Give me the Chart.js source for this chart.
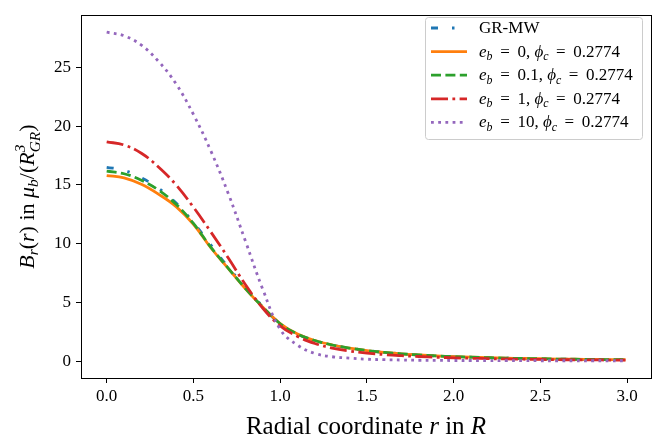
<!DOCTYPE html>
<html>
<head>
<meta charset="utf-8">
<script src="https://cdn.jsdelivr.net/npm/chart.js@4"></script>
<style>
  body { margin: 0; background: #fff; }
  canvas { display: block; }
</style>
</head>
<body>
<canvas id="chart" width="664" height="440"></canvas>
<script>
// radial coordinate r (in R)
const radius = [0, 0.1, 0.2, 0.3, 0.4, 0.5, 0.6, 0.7, 0.8, 0.9, 1.0, 1.1, 1.2, 1.3, 1.4, 1.5,
  1.6, 1.7, 1.8, 1.9, 2.0, 2.1, 2.2, 2.3, 2.4, 2.5, 2.6, 2.7, 2.8, 2.9, 2.99];

const grMW = [16.5, 16.25, 15.6, 14.7, 13.45, 11.8, 9.9, 8.0, 6.3, 4.65, 3.15, 2.3, 1.75, 1.37, 1.1, 0.9,
  0.74, 0.62, 0.52, 0.44, 0.38, 0.33, 0.29, 0.25, 0.22, 0.2, 0.17, 0.155, 0.14, 0.125, 0.115];
const eb0 = [15.8, 15.6, 15.05, 14.2, 13.15, 11.65, 9.65, 7.9, 6.15, 4.58, 3.2, 2.3, 1.75, 1.37, 1.1, 0.9,
  0.74, 0.61, 0.52, 0.44, 0.38, 0.33, 0.29, 0.25, 0.22, 0.2, 0.17, 0.155, 0.14, 0.125, 0.115];
const eb01 = [16.17, 15.95, 15.4, 14.55, 13.35, 11.72, 9.7, 7.92, 6.17, 4.6, 3.18, 2.3, 1.75, 1.37, 1.1, 0.9,
  0.74, 0.62, 0.52, 0.44, 0.38, 0.33, 0.29, 0.25, 0.22, 0.2, 0.17, 0.155, 0.14, 0.125, 0.115];
const eb1 = [18.67, 18.4, 17.7, 16.5, 15.0, 13.1, 11.0, 8.8, 6.5, 4.5, 3.0, 2.1, 1.5, 1.1, 0.85, 0.68,
  0.55, 0.46, 0.39, 0.33, 0.28, 0.24, 0.21, 0.18, 0.16, 0.14, 0.12, 0.11, 0.1, 0.09, 0.08];
const eb10 = [28.0, 27.7, 26.9, 25.5, 23.6, 21.0, 17.9, 14.3, 10.2, 6.1, 2.7, 1.35, 0.65, 0.37, 0.25, 0.16,
  0.12, 0.09, 0.07, 0.06, 0.05, 0.05, 0.04, 0.04, 0.04, 0.03, 0.03, 0.03, 0.03, 0.03, 0.03];

const xTicks = [0, 0.5, 1.0, 1.5, 2.0, 2.5, 3.0];
const yTicks = [0, 5, 10, 15, 20, 25];

const SERIF = '"Liberation Serif", "DejaVu Serif", serif';

// legend entries: rich text parts
const EQ = '\u2009 = \u2009';
const phiPart = [{t: ', '}, {t: 'ϕ', i: true}, {t: 'c', i: true, sub: true}, {t: EQ + '0.2774'}];
const legendItems = [
  {color: '#1f77b4', dash: [7, 14, 2.5, 14], parts: [{t: 'GR-MW'}]},
  {color: '#ff7f0e', dash: [], parts: [{t: 'e', i: true}, {t: 'b', i: true, sub: true}, {t: EQ + '0'}].concat(phiPart)},
  {color: '#2ca02c', dash: [10, 4.4], parts: [{t: 'e', i: true}, {t: 'b', i: true, sub: true}, {t: EQ + '0.1'}].concat(phiPart)},
  {color: '#d62728', dash: [17, 4.4, 2.8, 4.4], parts: [{t: 'e', i: true}, {t: 'b', i: true, sub: true}, {t: EQ + '1'}].concat(phiPart)},
  {color: '#9467bd', dash: [2.8, 4.4], parts: [{t: 'e', i: true}, {t: 'b', i: true, sub: true}, {t: EQ + '10'}].concat(phiPart)}
];
const seriesValues = [grMW, eb0, eb01, eb1, eb10];

function font(size, italic) {
  return (italic ? 'italic ' : '') + size + 'px ' + SERIF;
}

function partWidth(ctx, p, size) {
  if (p.sup !== undefined) {
    ctx.font = font(size * 0.7, p.i);
    return Math.max(ctx.measureText(p.sup).width, ctx.measureText(p.sub).width);
  }
  ctx.font = font(p.sub || p.sup ? size * 0.7 : size, p.i);
  return ctx.measureText(p.t).width;
}

function drawRich(ctx, parts, x, y, size, align) {
  let total = 0;
  parts.forEach(p => { total += partWidth(ctx, p, size); });
  let cx = align === 'center' ? x - total / 2 : x;
  ctx.textBaseline = 'alphabetic';
  ctx.textAlign = 'left';
  ctx.fillStyle = '#000';
  parts.forEach(p => {
    const w = partWidth(ctx, p, size);
    if (p.sup !== undefined) {
      ctx.font = font(size * 0.7, p.i);
      ctx.fillText(p.sup, cx, y - size * 0.42);
      ctx.fillText(p.sub, cx, y + size * 0.25);
    } else if (p.sub) {
      ctx.font = font(size * 0.7, p.i);
      ctx.fillText(p.t, cx, y + size * 0.2);
    } else {
      ctx.font = font(size, p.i);
      ctx.fillText(p.t, cx, y);
    }
    cx += w;
  });
}

const decorations = {
  id: 'decorations',
  afterDraw(chart) {
    const ctx = chart.ctx;
    const a = chart.chartArea;
    ctx.save();
    // frame
    ctx.strokeStyle = '#000';
    ctx.lineWidth = 1;
    ctx.strokeRect(Math.round(a.left) + 0.5, Math.round(a.top) + 0.5,
      Math.round(a.right - a.left), Math.round(a.bottom - a.top));

    // legend
    const lx = 425, ly = 17, lw = 217, lh = 122;
    ctx.fillStyle = 'rgba(255,255,255,0.8)';
    ctx.strokeStyle = '#cccccc';
    ctx.beginPath();
    ctx.roundRect(lx + 0.5, ly + 0.5, lw, lh, 3);
    ctx.fill();
    ctx.stroke();
    legendItems.forEach((item, k) => {
      const yy = 28 + k * 23.6;
      ctx.strokeStyle = item.color;
      ctx.lineWidth = 2.8;
      ctx.setLineDash(item.dash);
      ctx.beginPath();
      ctx.moveTo(431, yy);
      ctx.lineTo(467, yy);
      ctx.stroke();
      ctx.setLineDash([]);
      drawRich(ctx, item.parts, 479, yy + 5, 17, 'left');
    });

    // x-axis title
    drawRich(ctx, [{t: 'Radial coordinate '}, {t: 'r', i: true}, {t: ' in '}, {t: 'R', i: true}],
      (a.left + a.right) / 2, 434, 25, 'center');

    // y-axis title
    ctx.translate(34, (a.top + a.bottom) / 2);
    ctx.rotate(-Math.PI / 2);
    drawRich(ctx, [{t: 'B', i: true}, {t: 'r', i: true, sub: true}, {t: '('}, {t: 'r', i: true}, {t: ') in '},
      {t: 'μ', i: true}, {t: 'b', i: true, sub: true}, {t: '/('}, {t: 'R', i: true},
      {sup: '3', sub: 'GR', i: true}, {t: ')'}], 0, 0, 22, 'center');
    ctx.restore();
  }
};

const ctx = document.getElementById('chart').getContext('2d');
const chart = new Chart(ctx, {
  type: 'line',
  data: {
    datasets: legendItems.map((item, k) => ({
      label: 'series ' + k,
      data: radius.map((r, j) => ({x: r, y: seriesValues[k][j]})),
      borderColor: item.color,
      borderWidth: 2.8,
      borderDash: item.dash,
      borderCapStyle: 'butt',
      pointRadius: 0,
      fill: false,
      tension: 0.4,
      order: 4 - k
    }))
  },
  options: {
    responsive: false,
    animation: false,
    devicePixelRatio: 1,
    layout: {padding: {left: 0, top: 7, right: 13, bottom: 0}},
    plugins: {legend: {display: false}, tooltip: {enabled: false}},
    scales: {
      x: {
        type: 'linear',
        min: -0.148,
        max: 3.137,
        afterBuildTicks: s => { s.ticks = xTicks.map(v => ({value: v})); },
        afterFit: s => { s.height = 62; },
        grid: {drawOnChartArea: false, drawTicks: true, tickLength: 5, tickColor: '#000'},
        border: {display: false},
        ticks: {
          color: '#000',
          padding: 3,
          font: {family: SERIF, size: 17},
          callback: v => v.toFixed(1)
        }
      },
      y: {
        type: 'linear',
        min: -1.44,
        max: 29.45,
        afterBuildTicks: s => { s.ticks = yTicks.map(v => ({value: v})); },
        afterFit: s => { s.width = 81; },
        grid: {drawOnChartArea: false, drawTicks: true, tickLength: 5, tickColor: '#000'},
        border: {display: false},
        ticks: {
          color: '#000',
          padding: 5,
          font: {family: SERIF, size: 17},
          callback: v => String(v)
        }
      }
    }
  },
  plugins: [decorations]
});
</script>
</body>
</html>
